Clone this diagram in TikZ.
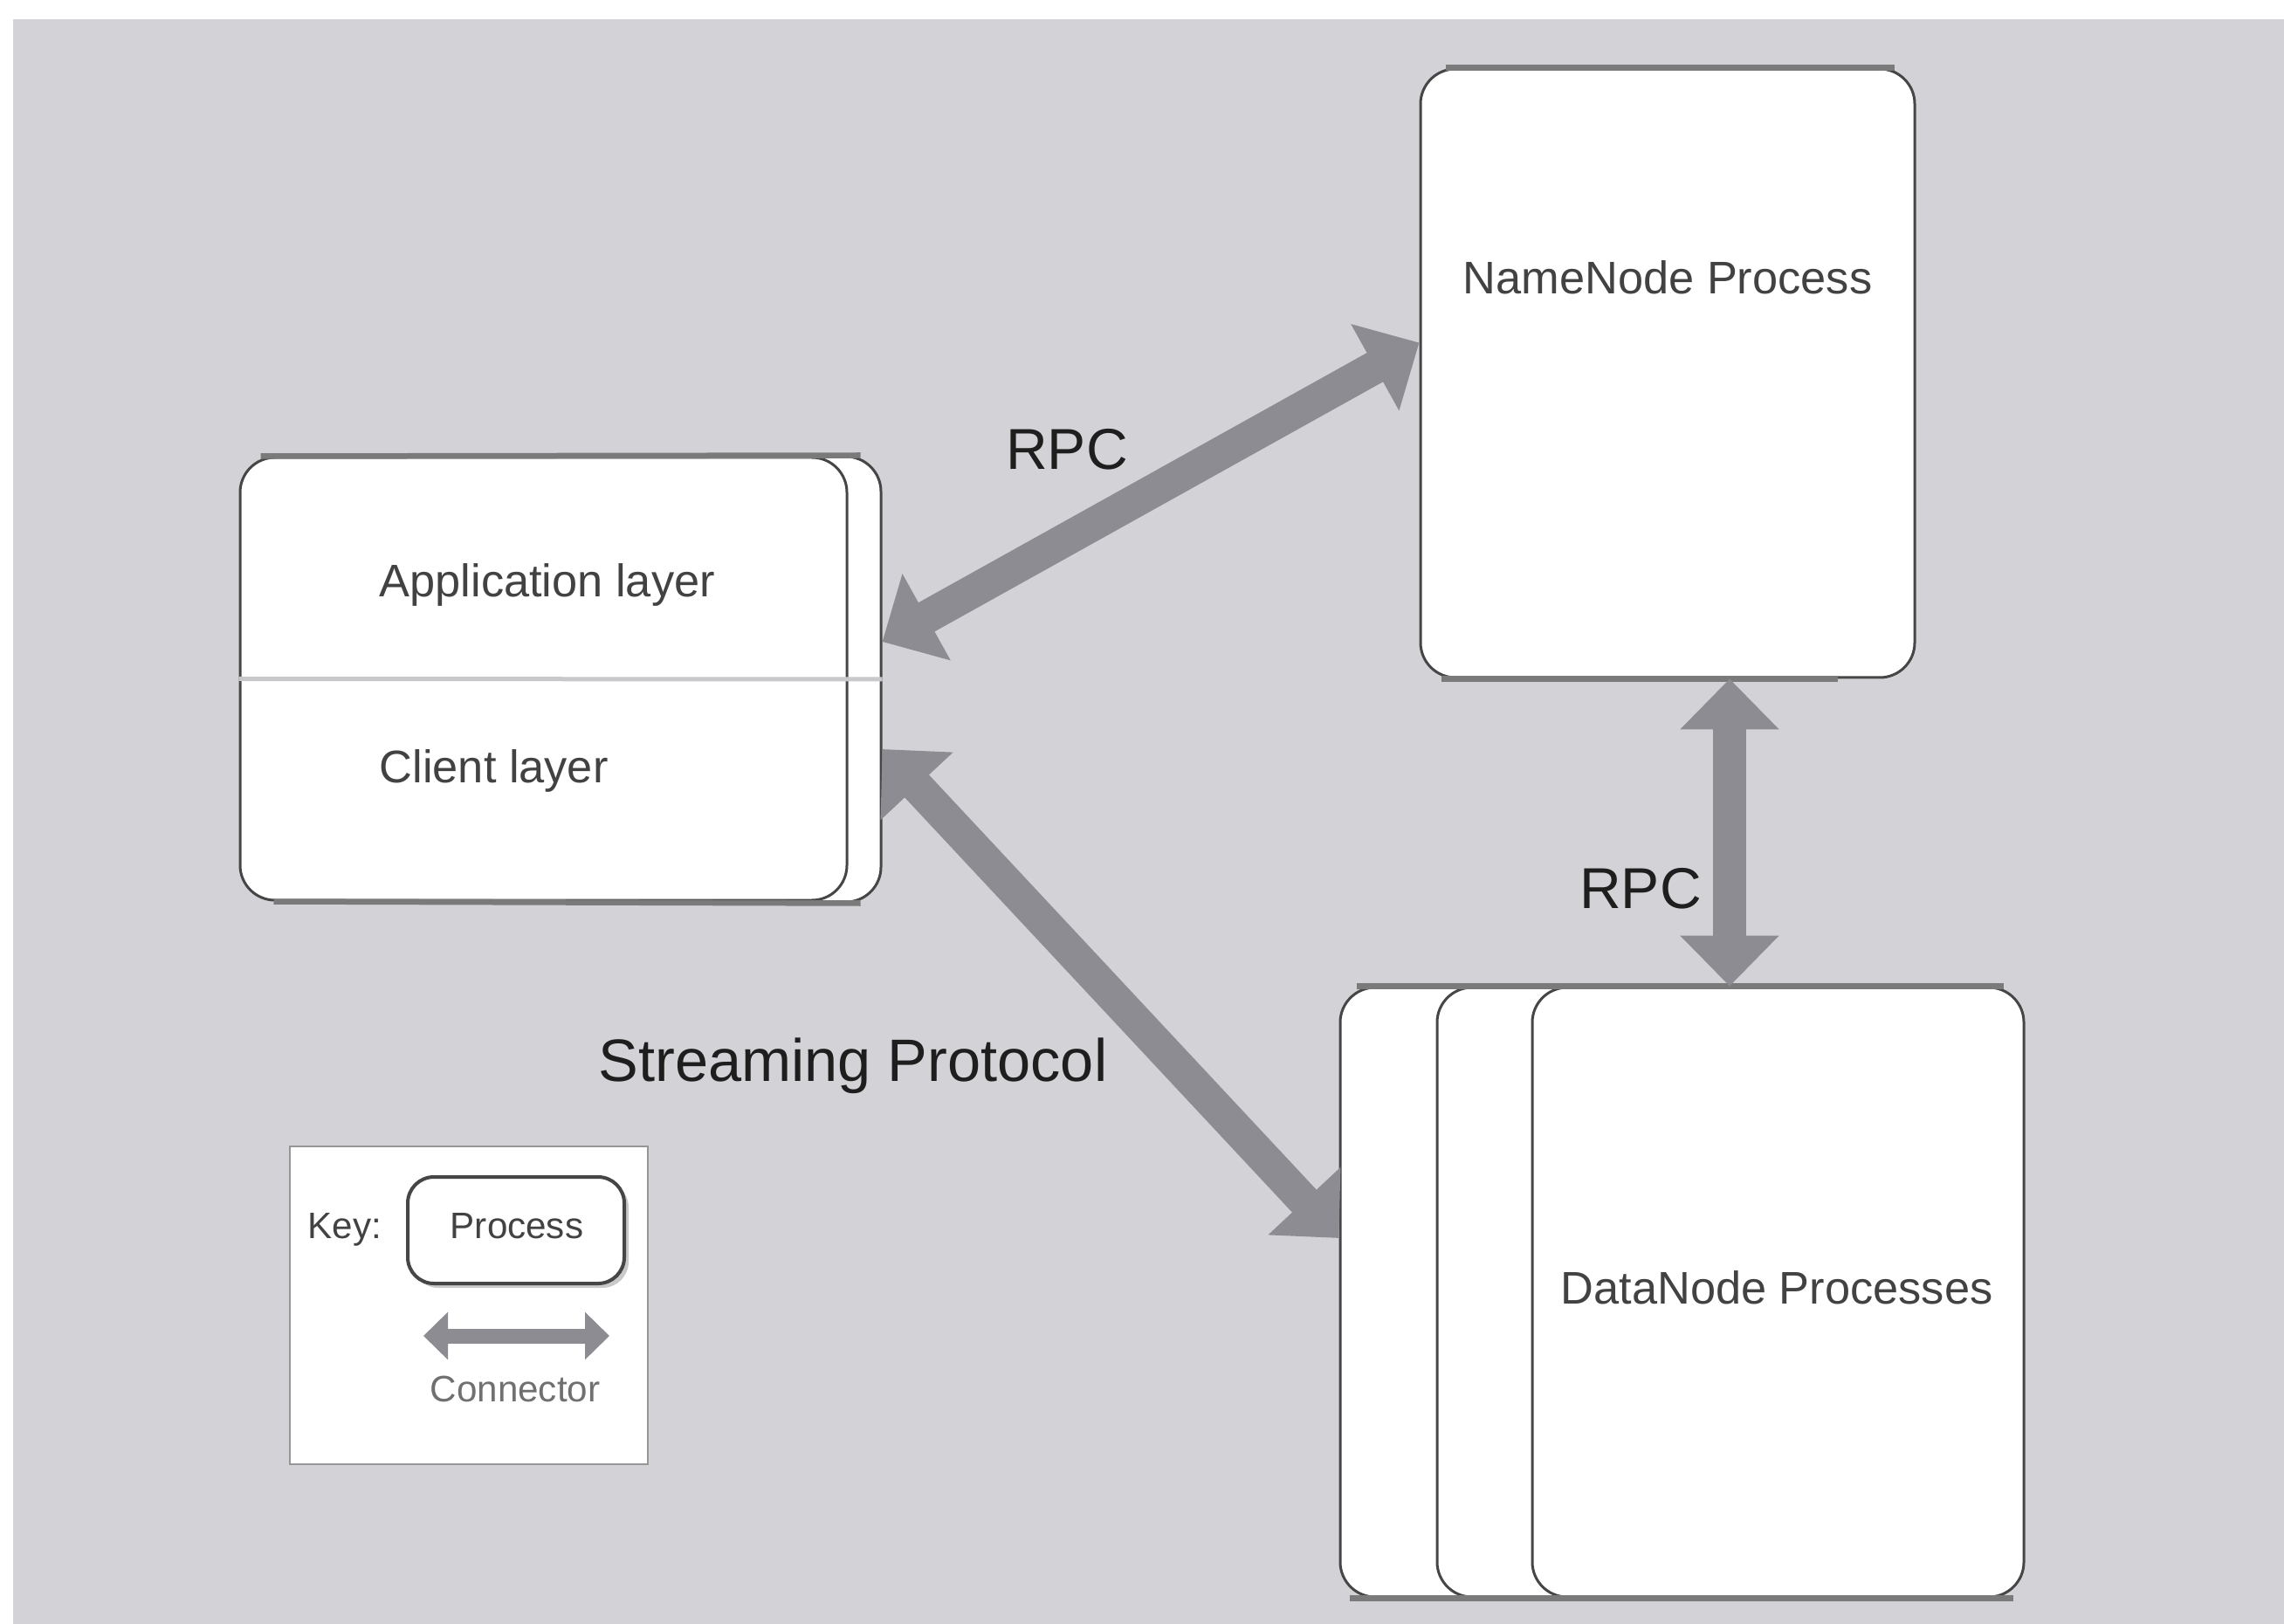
\documentclass[tikz,border=0pt]{standalone}
\usepackage{fontspec}
\setmainfont{Liberation Sans}
\usetikzlibrary{arrows.meta,calc,shadows}
\definecolor{bggray}{RGB}{211,211,215}
\definecolor{boxline}{RGB}{70,70,70}
\definecolor{barline}{RGB}{122,122,122}
\definecolor{arrowgray}{RGB}{140,140,146}
\definecolor{labeltext}{RGB}{66,66,66}
\definecolor{conntext}{RGB}{30,30,30}
\definecolor{dividercol}{RGB}{200,200,203}
\definecolor{keyline}{RGB}{150,150,150}
\definecolor{conngray}{RGB}{112,112,112}
\begin{document}
\begin{tikzpicture}[
  procbox/.style={draw=boxline, fill=white, line width=0.03cm, rounded corners=0.4cm, inner sep=0pt},
  bar/.style={draw=barline, line width=0.065cm},
  conn/.style={draw=arrowgray, line width=0.38cm, {Triangle[width=1.1cm,length=0.58cm]}-{Triangle[width=1.1cm,length=0.58cm]}},
  keyconn/.style={draw=arrowgray, line width=0.17cm, {Triangle[width=0.53cm,length=0.28cm]}-{Triangle[width=0.53cm,length=0.28cm]}},
  boxlabel/.style={text=labeltext, font=\fontsize{14.9pt}{17pt}\selectfont, inner sep=0pt},
  connlabel/.style={text=conntext, font=\fontsize{18.8pt}{22pt}\selectfont, inner sep=0pt},
  keylabel/.style={text=labeltext, font=\fontsize{12pt}{14pt}\selectfont, inner sep=0pt},
]
\useasboundingbox (0,0) rectangle (26.16,-18.60);
\fill[white] (0,0) rectangle (26.16,-18.60);
\fill[bggray] (0.15,-0.22) rectangle (26.16,-18.60);

% NameNode
\node[procbox, minimum width=5.66cm, minimum height=6.97cm] (nn) at (19.10,-4.275) {};
\draw[bar] ([xshift=0.3cm]nn.north west) -- ([xshift=-0.25cm]nn.north east);
\draw[bar] ([xshift=0.25cm]nn.south west) -- ([xshift=-0.9cm]nn.south east);
\node[boxlabel, anchor=base] (nnlabel) at (19.10,-3.37) {NameNode Process};

% Client
\node[procbox, minimum width=6.95cm, minimum height=5.10cm] (cb) at (6.615,-7.78) {};
\node[procbox, minimum width=6.95cm, minimum height=5.07cm] (cf) at (6.225,-7.775) {};
\draw[bar] ([xshift=0.25cm]cf.north west) -- ([xshift=-0.25cm]cb.north east);
\draw[bar] ([xshift=0.4cm]cf.south west) -- ([xshift=-0.25cm]cb.south east);
\draw[dividercol, line width=0.05cm] (cf.west) -- (cb.east);
\node[boxlabel, anchor=base west] (applabel) at (4.34,-6.84) {Application layer};
\node[boxlabel, anchor=base west] (clientlabel) at (4.34,-8.96) {Client layer};

% DataNodes
\node[procbox, minimum width=5.63cm, minimum height=6.98cm] (dn1) at (18.165,-14.80) {};
\node[procbox, minimum width=5.63cm, minimum height=6.98cm] (dn2) at (19.275,-14.80) {};
\node[procbox, minimum width=5.63cm, minimum height=6.98cm] (dn3) at (20.365,-14.80) {};
\draw[bar] ([xshift=0.2cm]dn1.north west) -- ([xshift=-0.25cm]dn3.north east);
\draw[bar] ([xshift=0.12cm]dn1.south west) -- ([xshift=-0.14cm]dn3.south east);
\node[boxlabel, anchor=base] (dnlabel) at (20.35,-14.93) {DataNode Processes};

% connectors
\draw[conn] ([yshift=0.43cm]cb.east) -- ([yshift=0.35cm]nn.west);
\draw[conn] ([xshift=0.71cm]nn.south) -- ([xshift=0.71cm]nn.south |- dn3.north);
\draw[conn] ([yshift=-0.80cm]cb.east) -- ([yshift=0.62cm]dn1.west);
\node[connlabel, anchor=base] (rpc1) at (12.22,-5.38) {RPC};
\node[connlabel, anchor=base] (rpc2) at (18.79,-10.40) {RPC};
\node[connlabel, anchor=base, font=\fontsize{19.5pt}{22pt}\selectfont] (stream) at (9.77,-12.38) {Streaming Protocol};

% key
\node[draw=keyline, fill=white, line width=0.02cm, minimum width=4.10cm, minimum height=3.64cm, inner sep=0pt] (keybox) at (5.37,-14.95) {};
\node[keylabel, anchor=base west] (keytxt) at (3.52,-14.18) {Key:};
\node[procbox, line width=0.04cm, rounded corners=0.3cm, minimum width=2.48cm, minimum height=1.22cm,
      drop shadow={shadow xshift=0.05cm, shadow yshift=-0.05cm, opacity=0.35, fill=black!60}] (keyproc) at (5.91,-14.09) {};
\node[keylabel, anchor=base] (keyproctxt) at (5.92,-14.18) {Process};
\coordinate (kl) at (4.85,-15.30);
\coordinate (kr) at (6.98,-15.30);
\draw[keyconn] (kl) -- (kr);
\node[keylabel, anchor=base, text=conngray] (keyconntxt) at (5.90,-16.05) {Connector};
\end{tikzpicture}
\end{document}
